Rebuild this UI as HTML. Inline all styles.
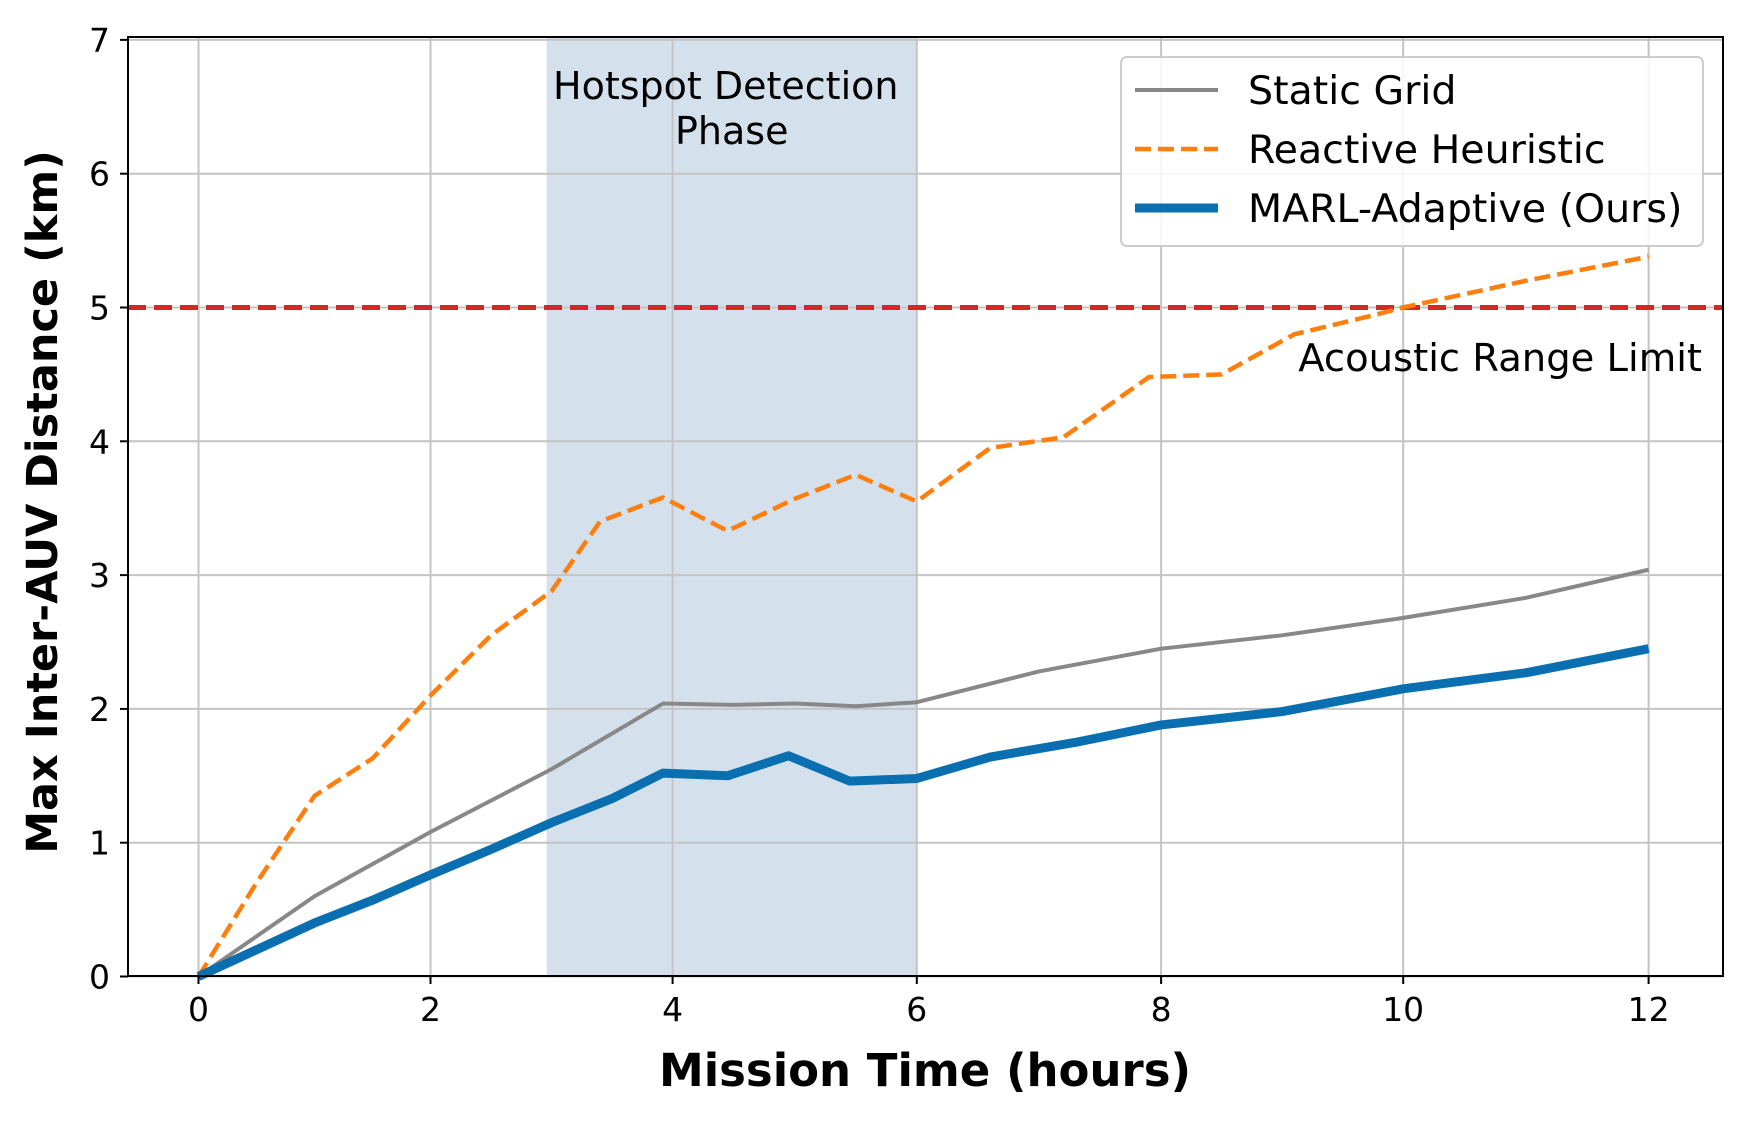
<!DOCTYPE html>
<html><head><meta charset="utf-8"><style>
html,body{margin:0;padding:0;background:#fff;}
svg text{font-family:"DejaVu Sans","Liberation Sans",sans-serif;}
</style></head><body>
<svg id="chart" width="1749" height="1116" xmlns="http://www.w3.org/2000/svg">
<g id="grid"></g>
<g id="series"></g>
<g id="axes"></g>
<text x="0" y="0" transform="translate(57,502) rotate(-90)" text-anchor="middle" font-size="43" font-weight="bold">Max Inter-AUV Distance (km)</text>
<text x="925" y="1086" text-anchor="middle" font-size="45" font-weight="bold">Mission Time (hours)</text>
<g>
<rect x="1121" y="57" width="582" height="189" rx="6" fill="#fff" fill-opacity="0.85" stroke="#ccc" stroke-width="2"/>
<line x1="1135" y1="90" x2="1218" y2="90" stroke="#888" stroke-width="4"/>
<text x="1248" y="104" font-size="39.5">Static Grid</text>
<line x1="1135" y1="149" x2="1218" y2="149" stroke="#ff7f0e" stroke-width="4.5" stroke-dasharray="16,7"/>
<text x="1248" y="163" font-size="39.5">Reactive Heuristic</text>
<line x1="1135" y1="208" x2="1218" y2="208" stroke="#0a6fb0" stroke-width="9"/>
<text x="1248" y="222" font-size="39.5">MARL-Adaptive (Ours)</text>
</g>
</svg>
<script>
const xTicks=[0,2,4,6,8,10,12];
const yTicks=[0,1,2,3,4,5,6,7];
const staticX=[0,1,2,3,3.92,4.5,5,5.5,6,7,8,9,10,11,12];
const staticY=[0,0.6,1.08,1.55,2.04,2.03,2.04,2.02,2.05,2.28,2.45,2.55,2.68,2.83,3.04];
const reactX=[0,0.5,1,1.5,2,2.5,3,3.4,3.92,4.45,5,5.5,6,6.6,7.2,7.9,8.5,9.1,9.7,10,10.5,11,12];
const reactY=[0,0.7,1.35,1.63,2.1,2.55,2.88,3.4,3.58,3.33,3.57,3.75,3.55,3.95,4.03,4.48,4.5,4.8,4.93,5.0,5.1,5.2,5.38];
const marlX=[0,1,1.5,2,2.5,3,3.5,3.92,4.45,4.95,5.45,6,6.6,7.3,8,9,10,11,12];
const marlY=[0,0.4,0.57,0.76,0.95,1.15,1.33,1.52,1.5,1.65,1.46,1.48,1.64,1.75,1.88,1.98,2.15,2.27,2.45];
const phaseRange=[2.96,6];
const limitValue=5;
const L=128,R=1723,T=37,B=976;
// axis calibration (pixel positions of major ticks)
const xPix=[198.5,430.5,672.6,916.8,1161.1,1403.2,1648.6];
function sx(v){let i=Math.min(Math.max(Math.floor(v/2),0),xPix.length-2);return xPix[i]+(v-xTicks[i])/2*(xPix[i+1]-xPix[i]);}
const sy=v=>976.5-v*133.8;
const NS="http://www.w3.org/2000/svg";
function mk(tag,attrs,parent){const e=document.createElementNS(NS,tag);for(const k in attrs)e.setAttribute(k,attrs[k]);parent.appendChild(e);return e;}
const grid=document.getElementById('grid'),ser=document.getElementById('series'),axes=document.getElementById('axes');
const band=mk('rect',{x:sx(phaseRange[0]),y:T,width:sx(phaseRange[1])-sx(phaseRange[0]),height:B-T,fill:'#c9dae8',opacity:0.8},grid);


xTicks.forEach(t=>{const l=mk('line',{x1:sx(t),x2:sx(t),y1:T,y2:B,stroke:'#c4c4c4','stroke-width':2},grid);


const tx=mk('text',{x:sx(t),y:B+45,'text-anchor':'middle','font-size':33},axes);tx.textContent=t;


mk('line',{x1:sx(t),x2:sx(t),y1:B,y2:B+8,stroke:'#000','stroke-width':2},axes);});
yTicks.forEach(t=>{const l=mk('line',{x1:L,x2:R,y1:sy(t),y2:sy(t),stroke:'#c4c4c4','stroke-width':2},grid);


const tx=mk('text',{x:L-18,y:sy(t)+12,'text-anchor':'end','font-size':33},axes);tx.textContent=t;


mk('line',{x1:L-8,x2:L,y1:sy(t),y2:sy(t),stroke:'#000','stroke-width':2},axes);});
const cx=(sx(phaseRange[0])+sx(phaseRange[1]))/2;
const ph=mk('text',{x:cx,y:99,'text-anchor':'middle','font-size':38},grid);


ph.innerHTML='<tspan x="'+(cx-6)+'">Hotspot Detection</tspan><tspan x="'+cx+'" dy="45">Phase</tspan>';
const lim=mk('line',{x1:L,x2:R,y1:sy(limitValue),y2:sy(limitValue),stroke:'#d62728','stroke-width':5,'stroke-dasharray':'18,8'},ser);


const lt=mk('text',{x:1702,y:371,'text-anchor':'end','font-size':38.5},ser);lt.textContent='Acoustic Range Limit';


function pts(xs,ys){return xs.map((x,i)=>sx(x)+','+sy(ys[i])).join(' ');}
const s1=mk('polyline',{points:pts(staticX,staticY),fill:'none',stroke:'#888','stroke-width':4,'stroke-linejoin':'round'},ser);


const s2=mk('polyline',{points:pts(reactX,reactY),fill:'none',stroke:'#ff7f0e','stroke-width':4.5,'stroke-dasharray':'16,7'},ser);


const s3=mk('polyline',{points:pts(marlX,marlY),fill:'none',stroke:'#0a6fb0','stroke-width':9,'stroke-linejoin':'round'},ser);


const fr=mk('rect',{x:L,y:T,width:R-L,height:B-T,fill:'none',stroke:'#000','stroke-width':2},axes);


</script>
</body></html>
